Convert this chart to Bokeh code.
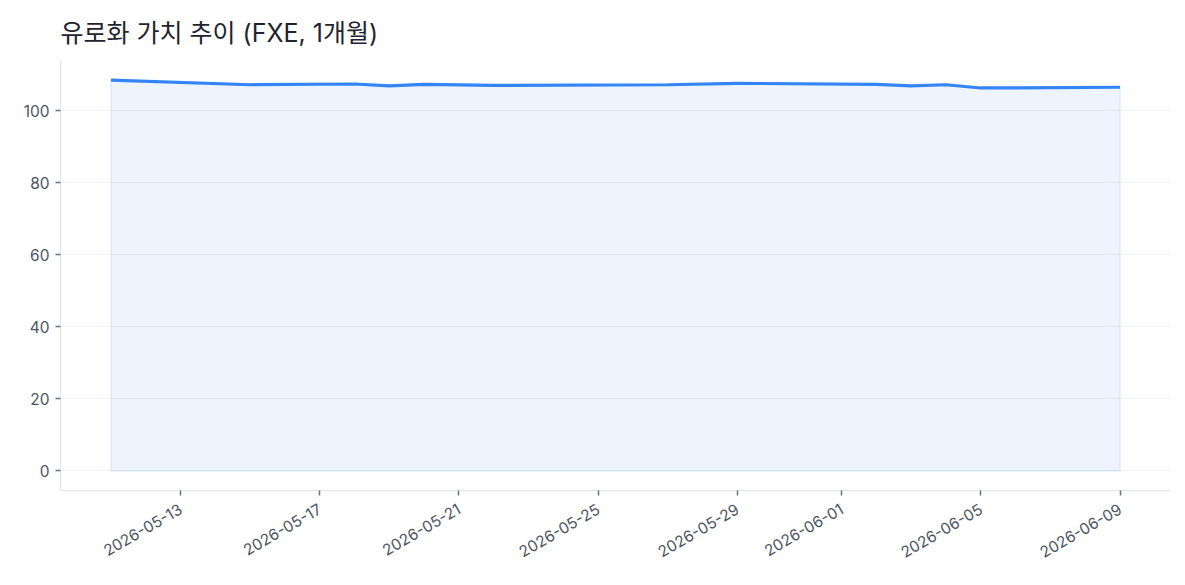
import math
from datetime import datetime
from bokeh.plotting import figure
from bokeh.models import FixedTicker, DatetimeTickFormatter, Range1d
from bokeh.embed import file_html
from bokeh.resources import INLINE

dates = ["2026-05-11", "2026-05-15", "2026-05-18", "2026-05-19", "2026-05-20",
         "2026-05-22", "2026-05-27", "2026-05-29", "2026-06-02", "2026-06-03",
         "2026-06-04", "2026-06-05", "2026-06-09"]
values = [108.5, 107.2, 107.4, 106.9, 107.3,
          107.0, 107.2, 107.6, 107.3, 106.9,
          107.2, 106.3, 106.5]
x_tick_dates = ["2026-05-13", "2026-05-17", "2026-05-21", "2026-05-25",
                "2026-05-29", "2026-06-01", "2026-06-05", "2026-06-09"]
y_ticks = [0, 20, 40, 60, 80, 100]
title_text = "유로화 가치 추이 (FXE, 1개월)"

TITLE_FONT = "Inter, 'Noto Sans CJK KR'"
LABEL_FONT = "Inter"
xs = [datetime.strptime(d, "%Y-%m-%d") for d in dates]
span = xs[-1] - xs[0]
pad = span * 0.05
ymax = max(values)
ypad = ymax * 0.05

p = figure(width=1177, height=577, output_backend="svg", toolbar_location=None,
           x_axis_type="datetime",
           x_range=Range1d(xs[0] - pad, xs[-1] + pad),
           y_range=Range1d(-ypad, ymax + ypad),
           min_border_left=60, min_border_right=7, min_border_top=60, min_border_bottom=87)

p.title.text = title_text
p.title.text_font = TITLE_FONT
p.title.text_font_size = "25px"
p.title.text_font_style = "normal"
p.title.text_color = "#1f2430"
p.title.offset = 0
p.title.standoff = 22
p.title.vertical_align = "top"

# area
px = xs + xs[::-1]
py = values + [0] * len(values)
p.patch(px, py, fill_color="#3b82f6", fill_alpha=0.09,
        line_color="#3b82f6", line_alpha=0.12, line_width=1.5)
p.line(xs, values, line_color="#3385f5", line_width=3.2)

p.outline_line_color = None
p.background_fill_color = "white"
p.border_fill_color = "white"

p.xgrid.grid_line_color = None
p.ygrid.grid_line_color = "#e5e7eb"
p.ygrid.grid_line_alpha = 0.55
p.ygrid.grid_line_width = 1.2

tick_ms = [(datetime.strptime(d, "%Y-%m-%d") - datetime(1970, 1, 1)).total_seconds() * 1000
           for d in x_tick_dates]
p.xaxis.ticker = FixedTicker(ticks=tick_ms)
p.xaxis.formatter = DatetimeTickFormatter(days="%Y-%m-%d", months="%Y-%m-%d", hours="%Y-%m-%d")
p.xaxis.major_label_orientation = math.pi / 6
p.yaxis.ticker = FixedTicker(ticks=y_ticks)

for ax in (p.xaxis, p.yaxis):
    ax.axis_line_color = "#e5e7eb"
    ax.axis_line_width = 1.5
    ax.major_tick_line_color = "#6b7280"
    ax.major_tick_line_width = 1.5
    ax.major_tick_in = 0
    ax.major_tick_out = 5
    ax.minor_tick_line_color = None
    ax.major_label_text_font = LABEL_FONT
    ax.major_label_text_font_size = "15.5px"
    ax.major_label_text_color = "#4b5563"
    ax.major_label_standoff = 6
p.xaxis.major_label_standoff = 12

open("out.html", "w").write(file_html(p, INLINE))
